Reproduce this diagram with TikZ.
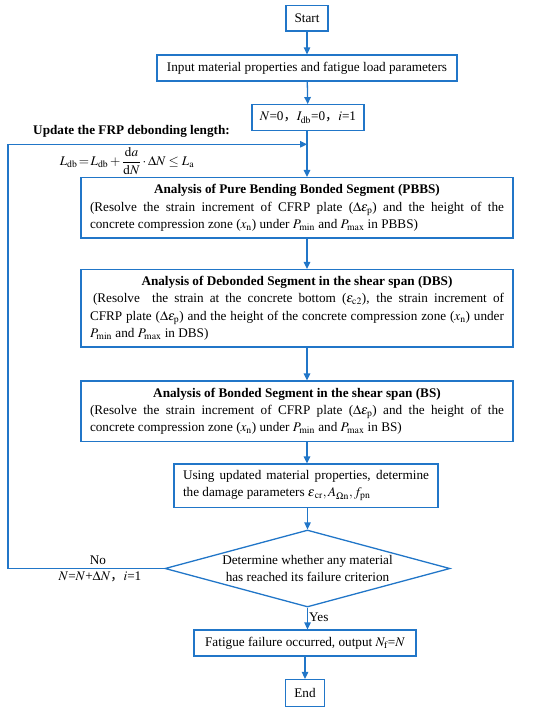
\documentclass[tikz,border=0pt]{standalone}
\usepackage{mathptmx}
\usepackage{amsmath}
\usepackage{fontspec}
\setmainfont{Liberation Serif}
\newfontfamily\cjkfont{Noto Sans CJK SC}
\usetikzlibrary{arrows.meta,shapes.geometric}
\definecolor{fblue}{RGB}{33,118,200}
\newcommand{\fwc}{{\cjkfont ，}}
\newcommand{\rmsub}[1]{\mathrm{#1}}
\begin{document}
\begin{tikzpicture}[x=1pt,y=-1pt,
  font=\fontsize{13.2}{17.3}\selectfont,
  box/.style={draw=fblue, line width=1.3pt, inner ysep=0pt, inner xsep=9pt, rectangle},
  bigbox/.style={box, text width=414pt, align=justify},
  arr/.style={draw=fblue, line width=1.3pt, -{Triangle[length=7pt,width=6.5pt]}},
  lbl/.style={inner sep=0pt}]
\useasboundingbox (0,0) rectangle (550,710);

\node[box, minimum width=42pt, minimum height=25.5pt, inner xsep=0pt] (start) at (307,18.3) {Start};
\node[box, minimum width=300pt, minimum height=26pt, inner xsep=0pt] (input) at (307,68) {Input material properties and fatigue load parameters};
\node[box, minimum width=112pt, minimum height=26pt, inner xsep=0pt] (init) at (308,117.7) {$N$=0\fwc$I_{\rmsub{db}}$=0\fwc$i$=1};

\node[bigbox, minimum height=60.5pt] (pbbs) at (297,207.8) {{\centering\bfseries Analysis of Pure Bending Bonded Segment (PBBS)\par}(Resolve the strain increment of CFRP plate ($\Delta\varepsilon_{\rmsub p}$) and the height of the\linebreak concrete compression zone ($x_{\rmsub n}$) under $P_{\min}$ and $P_{\max}$ in PBBS)};

\node[bigbox, minimum height=77.5pt] (dbs) at (297,308.3) {{\centering\bfseries Analysis of Debonded Segment in the shear span (DBS)\par}\hspace*{3pt}(Resolve\ \ the strain at the concrete bottom ($\varepsilon_{\rmsub{c2}}$), the strain increment of\linebreak CFRP plate ($\Delta\varepsilon_{\rmsub p}$) and the height of the concrete compression zone ($x_{\rmsub n}$) under\linebreak $P_{\min}$ and $P_{\max}$ in DBS)};

\node[bigbox, minimum height=60.5pt] (bs) at (297,411.3) {{\centering\bfseries Analysis of Bonded Segment in the shear span (BS)\par}(Resolve the strain increment of CFRP plate ($\Delta\varepsilon_{\rmsub p}$) and the height of the\linebreak concrete compression zone ($x_{\rmsub n}$) under $P_{\min}$ and $P_{\max}$ in BS)};

\node[box, text width=246pt, align=justify, minimum height=43.5pt] (dmg) at (306,485.8) {Using updated material properties, determine\linebreak the damage parameters $\boldsymbol{\varepsilon}_{\rmsub{cr}}, A_{\Omega\rmsub{n}}, f_{\rmsub{pn}}$};

\node[draw=fblue, line width=1.3pt, diamond, minimum width=285pt, minimum height=77pt, inner sep=0pt] (dec) at (307.5,568.5) {};
\node[lbl, align=center] (dectext) at (dec.center) {Determine whether any material\\has reached its failure criterion};

\node[box, minimum width=222pt, minimum height=26pt, inner xsep=0pt] (fail) at (305,643) {Fatigue failure occurred, output $N_{\rmsub f}$=$N$};
\node[box, minimum width=39pt, minimum height=27pt, inner xsep=0pt] (end) at (305,693) {End};

\node[lbl, font=\fontsize{13.2}{17.3}\selectfont\bfseries] (updlbl) at (131.5,131) {Update the FRP debonding length:};
\node[lbl] (formula) at (127,161) {$L_{\rmsub{db}}\!=\!L_{\rmsub{db}}+\dfrac{\mathrm{d}a}{\mathrm{d}N}\cdot\Delta N\leq L_{\rmsub a}$};
\node[lbl] (nolbl) at (98,560) {No};
\node[lbl] (nlbl) at (100,577) {$N$=$N$+$\Delta N$\fwc$i$=1};
\node[lbl, anchor=west] (yeslbl) at (309,617) {Yes};

\coordinate (cornerA) at (8,568.5);
\coordinate (cornerB) at (8,144.3);
\coordinate (merge) at (307,144.3);

\draw[arr] (start) -- (input);
\draw[arr] (input) -- (init);
\draw[arr] (init.south -| merge) -- (pbbs.north -| merge);
\draw[arr] (pbbs.south -| merge) -- (dbs.north -| merge);
\draw[arr] (dbs.south -| merge) -- (bs.north -| merge);
\draw[arr] (bs.south -| merge) -- (dmg.north -| merge);
\draw[arr] (dmg.south -| dec) -- (dec.north);
\draw[arr] (dec.south) -- (fail.north -| dec.south);
\draw[arr] (fail) -- (end);
\draw[arr] (dec.west) -- (cornerA) -- (cornerB) -- (merge);
\end{tikzpicture}
\end{document}
